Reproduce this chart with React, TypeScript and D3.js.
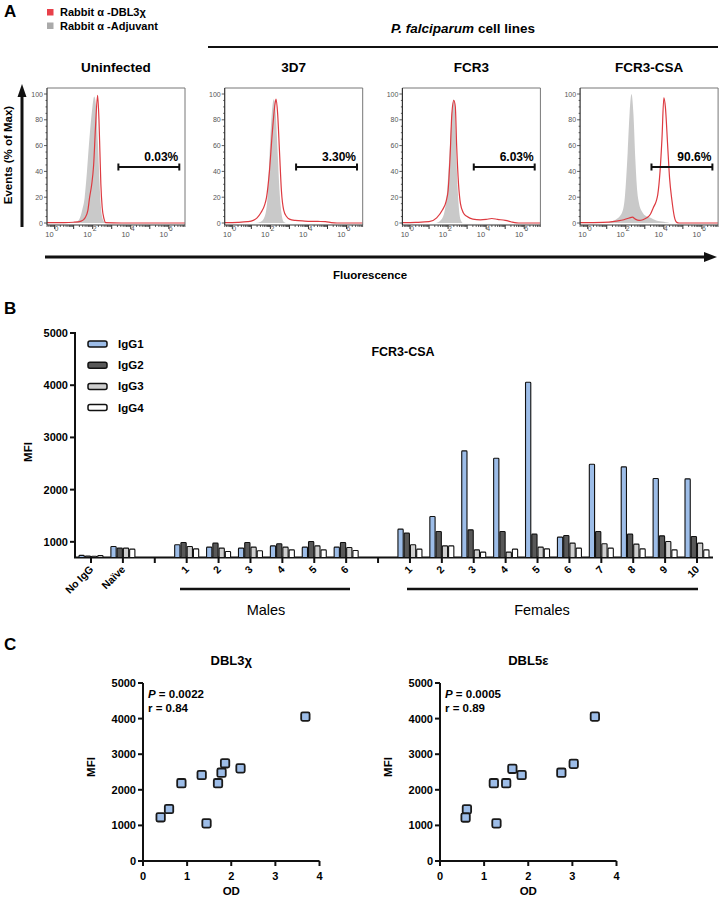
import React from 'react';
import * as d3 from 'd3';

// ---------- Panel A data ----------
const histTitles = ['Uninfected', '3D7', 'FCR3', 'FCR3-CSA'];
const gateLabels = ['0.03%', '3.30%', '6.03%', '90.6%'];
const gateRange = [3.35, 6.55];
const histYTicks = [0, 20, 40, 60, 80, 100];
const histXLabelDecades = [0, 2, 4, 6];

// [log10 fluorescence, % of max]
const adjuvantUninf = [[-0.4,0],[0.9,0],[1.1,0.8],[1.3,3],[1.45,10],[1.58,20],[1.7,40],[1.8,60],[1.95,85],[2.08,98],[2.18,90],[2.28,60],[2.38,25],[2.48,6],[2.6,1],[2.75,0],[6.85,0]];
const dbl3Uninf = [[-0.4,0.3],[0.5,0.3],[1.0,0.6],[1.4,1.5],[1.6,4],[1.75,10],[1.84,20],[1.95,30],[2.05,45],[2.15,75],[2.26,99],[2.33,80],[2.38,55],[2.43,30],[2.5,12],[2.6,3],[2.68,0.3],[3.5,0],[6.85,0]];
const adjuvant3D7 = [[-0.4,0],[1.2,0],[1.5,1],[1.7,5],[1.85,20],[1.95,50],[2.05,80],[2.18,96],[2.28,85],[2.38,55],[2.48,25],[2.58,8],[2.7,1],[2.85,0],[6.85,0]];
const dbl33D7 = [[-0.4,0.3],[0.3,0.5],[0.8,1],[1.1,2],[1.3,4],[1.5,8],[1.7,14],[1.8,20],[1.95,40],[2.1,70],[2.25,93],[2.3,96],[2.38,85],[2.48,55],[2.58,25],[2.7,10],[2.85,5],[3.0,3],[3.3,2],[3.8,1.5],[4.5,1.2],[4.9,1],[5.2,0.3],[5.5,0],[6.85,0]];
const adjuvantFCR3 = [[-0.4,0],[1.3,0],[1.6,2],[1.8,8],[1.95,25],[2.1,60],[2.2,85],[2.3,96],[2.38,80],[2.45,45],[2.55,15],[2.65,3],[2.8,0],[6.85,0]];
const dbl3FCR3 = [[-0.4,0.3],[0.3,0.5],[1.0,1],[1.4,4],[1.7,10],[1.9,17],[2.0,25],[2.1,50],[2.2,85],[2.3,95],[2.38,90],[2.45,60],[2.55,30],[2.65,15],[2.8,8],[3.0,5],[3.3,3],[3.7,2.5],[4.0,2.8],[4.3,3.5],[4.6,2.8],[5.0,2],[5.3,1],[5.5,0.3],[5.7,0],[6.85,0]];
const adjuvantCSA = [[-0.4,0],[0.9,0],[1.2,1],[1.5,3],[1.8,8],[1.95,20],[2.1,55],[2.2,85],[2.3,100],[2.4,85],[2.5,50],[2.6,25],[2.7,15],[2.85,9],[3.0,6],[3.3,4],[3.6,2],[4.0,1],[4.4,0],[6.85,0]];
const dbl3CSA = [[-0.4,0.3],[0.8,0.5],[1.5,1.5],[1.9,2.5],[2.2,4],[2.35,4.5],[2.5,3],[2.7,2],[2.9,2.5],[3.1,4],[3.3,7],[3.45,12],[3.6,17],[3.68,22],[3.8,40],[3.9,65],[4.0,97],[4.08,90],[4.2,60],[4.3,35],[4.42,18],[4.55,5],[4.68,0.5],[4.8,0],[6.85,0]];

const adjuvantCurves = [adjuvantUninf, adjuvant3D7, adjuvantFCR3, adjuvantCSA];
const dbl3Curves = [dbl3Uninf, dbl33D7, dbl3FCR3, dbl3CSA];

// ---------- Panel B data ----------
const barIds = ['noigg','naive','gap1','m1','m2','m3','m4','m5','m6','gap2','f1','f2','f3','f4','f5','f6','f7','f8','f9','f10'];
const barLabels = ['No IgG','Naïve','','1','2','3','4','5','6','','1','2','3','4','5','6','7','8','9','10'];
const iggSeries = ['IgG1', 'IgG2', 'IgG3', 'IgG4'];
const igg1 = [740, 910, null, 943, 899, 879, 923, 899, 899, null, 1243, 1484, 2742, 2602, 4057, 1090, 2487, 2435, 2212, 2206];
const igg2 = [730, 879, null, 987, 975, 987, 962, 1006, 987, null, 1166, 1197, 1230, 1197, 1147, 1121, 1197, 1147, 1115, 1101];
const igg3 = [725, 879, null, 910, 879, 899, 899, 923, 892, null, 943, 923, 847, 803, 899, 975, 962, 956, 1006, 975];
const igg4 = [735, 860, null, 866, 815, 828, 847, 847, 834, null, 860, 923, 803, 860, 866, 879, 879, 866, 847, 847];
const barYTicks = [1000, 2000, 3000, 4000, 5000];

// ---------- Panel C data ----------
const dbl3OD = [3.68, 1.86, 2.21, 1.78, 1.33, 0.87, 1.70, 0.59, 0.40, 1.44];
const dbl3MFI = [4055, 2744, 2603, 2480, 2416, 2185, 2185, 1461, 1227, 1058];
const dbl5OD = [3.51, 3.03, 2.75, 1.64, 1.85, 1.22, 1.50, 0.61, 0.58, 1.28];
const dbl5MFI = [4055, 2728, 2480, 2590, 2416, 2185, 2185, 1452, 1220, 1058];
const scatterXTicks = [0, 1, 2, 3, 4];
const scatterYTicks = [0, 1000, 2000, 3000, 4000, 5000];

const FONT = '"Liberation Sans", Arial, Helvetica, sans-serif';
const RED = '#dd3a40';
const GRAYFILL = '#c9c9c9';
const BLUE = '#9dbde8';
const COLORS = [BLUE, '#585858', '#cfcfcf', '#ffffff'];

function Histogram({ i }: { i: number }) {
  const left = 47 + i * 177.7;
  const w = 138;
  const top = 88;
  const axisY = 225;
  const x = d3.scaleLinear().domain([-0.4, 6.85]).range([left, left + w]);
  const y = d3.scaleLinear().domain([0, 100]).range([223, 94]);
  const area = d3.area<number[]>().x(d => x(d[0])).y0(y(0)).y1(d => y(d[1])).curve(d3.curveMonotoneX);
  const line = d3.line<number[]>().x(d => x(d[0])).y(d => y(d[1])).curve(d3.curveMonotoneX);
  const minor: number[] = [];
  for (let d = -1; d <= 6; d++) for (let k = 2; k <= 9; k++) {
    const v = d + Math.log10(k);
    if (v > -0.4 && v < 6.85) minor.push(v);
  }
  const yMinor = d3.range(0, 101, 5);
  const gx0 = x(gateRange[0]);
  const gx1 = x(gateRange[1]);
  return (
    <g>
      <text x={left + w / 2} y={72} textAnchor="middle" fontWeight="bold" fontSize={13.5}>{histTitles[i]}</text>
      <path d={area(adjuvantCurves[i]) || ''} fill={GRAYFILL} />
      <path d={line(dbl3Curves[i]) || ''} fill="none" stroke={RED} strokeWidth={1.2} />
      <path d={`M${left},${top}H${left + w}V${axisY}`} fill="none" stroke="#777" strokeWidth={1} />
      <line x1={left} x2={left} y1={top} y2={axisY} stroke="#333" strokeWidth={1.2} />
      <line x1={left} x2={left + w} y1={axisY} y2={axisY} stroke="#333" strokeWidth={1.2} />
      {yMinor.map(v => (
        <line key={'ym' + v} x1={left} x2={left - (v % 20 === 0 ? 3 : 1.5)} y1={y(v)} y2={y(v)} stroke="#333" strokeWidth={0.8} />
      ))}
      {histYTicks.map(v => (
        <text key={'yt' + v} x={left - 4} y={y(v) + 2.5} textAnchor="end" fontSize={7} fill="#555">{v}</text>
      ))}
      {minor.map(v => (
        <line key={'xm' + v} x1={x(v)} x2={x(v)} y1={axisY} y2={axisY + 2} stroke="#333" strokeWidth={0.8} />
      ))}
      {d3.range(0, 7).map(v => (
        <line key={'xM' + v} x1={x(v)} x2={x(v)} y1={axisY} y2={axisY + 4} stroke="#333" strokeWidth={1} />
      ))}
      {histXLabelDecades.map(v => (
        <text key={'xl' + v} x={x(v) - 1} y={237} textAnchor="end" fontSize={7.5} fill="#555">10</text>
      ))}
      {histXLabelDecades.map(v => (
        <text key={'xs' + v} x={x(v)} y={231} fontSize={7} fill="#555">{v}</text>
      ))}
      <line x1={gx0} x2={gx1} y1={167} y2={167} stroke="#111" strokeWidth={2} />
      <line x1={gx0} x2={gx0} y1={163.5} y2={170.5} stroke="#111" strokeWidth={2} />
      <line x1={gx1} x2={gx1} y1={163.5} y2={170.5} stroke="#111" strokeWidth={2} />
      <text x={gx1 - 1} y={161} textAnchor="end" fontWeight="bold" fontSize={12}>{gateLabels[i]}</text>
    </g>
  );
}

function Scatter({ left, title, ods, mfis, pText, rText }: { left: number; title: string; ods: number[]; mfis: number[]; pText: string; rText: string }) {
  const x = d3.scaleLinear().domain([0, 4]).range([left, left + 176.5]);
  const y = d3.scaleLinear().domain([0, 5000]).range([861, 683]);
  const cx = (x(0) + x(4)) / 2;
  return (
    <g>
      <text x={cx} y={665} textAnchor="middle" fontWeight="bold" fontSize={13}>{title}</text>
      <line x1={x(0)} x2={x(0)} y1={y(5000)} y2={y(0)} stroke="#111" strokeWidth={2} />
      <line x1={x(0)} x2={x(4)} y1={y(0)} y2={y(0)} stroke="#111" strokeWidth={2} />
      {scatterYTicks.map(v => (
        <g key={'sy' + v}>
          <line x1={x(0) - 5} x2={x(0)} y1={y(v)} y2={y(v)} stroke="#111" strokeWidth={2} />
          <text x={x(0) - 7} y={y(v) + 4} textAnchor="end" fontWeight="bold" fontSize={11}>{v}</text>
        </g>
      ))}
      {scatterXTicks.map(v => (
        <g key={'sx' + v}>
          <line x1={x(v)} x2={x(v)} y1={y(0)} y2={y(0) + 5} stroke="#111" strokeWidth={2} />
          <text x={x(v)} y={880} textAnchor="middle" fontWeight="bold" fontSize={11}>{v}</text>
        </g>
      ))}
      <text x={cx} y={895} textAnchor="middle" fontWeight="bold" fontSize={11.5}>OD</text>
      <text transform={`translate(${left - 48},${767}) rotate(-90)`} textAnchor="middle" fontWeight="bold" fontSize={11.5}>MFI</text>
      <text x={left + 5} y={698} fontWeight="bold" fontSize={11.5}><tspan fontStyle="italic">P</tspan>{pText}</text>
      <text x={left + 5} y={712} fontWeight="bold" fontSize={11.5}>{rText}</text>
      {ods.map((o, k) => (
        <rect key={'pt' + k} x={x(o) - 4.2} y={y(mfis[k]) - 4.2} width={8.4} height={8.4} rx={1.5} fill={BLUE} stroke="#1a1a1a" strokeWidth={1.8} />
      ))}
    </g>
  );
}

export default function App() {
  const xB = d3.scalePoint<string>().domain(barIds).range([91, 697]);
  const yB = d3.scaleLinear().domain([700, 5000]).range([557.5, 333]);
  const inner = d3.scaleBand<string>().domain(iggSeries).range([-12.5, 12.5]);
  const seriesVals = [igg1, igg2, igg3, igg4];

  return (
    <svg width={720} height={898} style={{ position: 'absolute', left: 0, top: 0, background: '#fff' }} fontFamily={FONT}>
      <rect width={720} height={898} fill="#fff" />
      {/* ---------- Panel A ---------- */}
      <text x={4} y={17} fontWeight="bold" fontSize={17}>A</text>
      <rect x={47} y={9} width={6.5} height={6.5} fill="#e8404a" />
      <text x={60} y={16} fontWeight="bold" fontSize={11}>Rabbit α -DBL3χ</text>
      <rect x={47} y={22.5} width={6.5} height={6.5} fill="#aaaaaa" />
      <text x={60} y={30} fontWeight="bold" fontSize={11}>Rabbit α -Adjuvant</text>
      <text x={463} y={33} textAnchor="middle" fontWeight="bold" fontSize={13.5}>
        <tspan fontStyle="italic">P. falciparum</tspan> cell lines
      </text>
      <line x1={208} x2={718} y1={47} y2={47} stroke="#111" strokeWidth={2.2} />
      {histTitles.map((t, i) => <Histogram key={t} i={i} />)}
      <line x1={22} x2={22} y1={227} y2={95} stroke="#111" strokeWidth={3} />
      <path d="M22,84 L17.5,97 L26.5,97 Z" fill="#111" />
      <text transform="translate(12,155) rotate(-90)" textAnchor="middle" fontWeight="bold" fontSize={11.5}>Events (% of Max)</text>
      <line x1={45} x2={706} y1={257} y2={257} stroke="#111" strokeWidth={3} />
      <path d="M717,257 L704,252 L704,262 Z" fill="#111" />
      <text x={370} y={279} textAnchor="middle" fontWeight="bold" fontSize={11.5}>Fluorescence</text>

      {/* ---------- Panel B ---------- */}
      <text x={4} y={314} fontWeight="bold" fontSize={17}>B</text>
      <text x={403} y={356} textAnchor="middle" fontWeight="bold" fontSize={12.5}>FCR3-CSA</text>
      <line x1={75} x2={75} y1={yB(5000) - 1} y2={558} stroke="#111" strokeWidth={2} />
      <line x1={74} x2={713} y1={557.5} y2={557.5} stroke="#111" strokeWidth={2} />
      {barYTicks.map(v => (
        <g key={'by' + v}>
          <line x1={70} x2={75} y1={yB(v)} y2={yB(v)} stroke="#111" strokeWidth={2} />
          <text x={68} y={yB(v) + 4} textAnchor="end" fontWeight="bold" fontSize={11}>{v}</text>
        </g>
      ))}
      <text transform="translate(32,452) rotate(-90)" textAnchor="middle" fontWeight="bold" fontSize={11.5}>MFI</text>
      {barIds.map((id, ci) => (
        <g key={id}>
          {seriesVals.map((vals, si) => {
            const v = vals[ci];
            if (v == null) return null;
            const bx = (xB(id) as number) + (inner(iggSeries[si]) as number);
            const top = yB(v);
            return <rect key={si} x={bx + 0.5} y={top} width={inner.bandwidth() - 1} height={Math.max(0.5, 557.5 - top)} fill={COLORS[si]} stroke="#111" strokeWidth={1.1} rx={0.8} />;
          })}
          <line x1={xB(id)} x2={xB(id)} y1={557.5} y2={563} stroke="#111" strokeWidth={2} />
          {barLabels[ci] !== '' && (
            <text transform={`translate(${(xB(id) as number) + 3},${570}) rotate(-45)`} textAnchor="end" fontWeight="bold" fontSize={10.5}>{barLabels[ci]}</text>
          )}
        </g>
      ))}
      {iggSeries.map((s, si) => (
        <g key={s}>
          <rect x={88} y={341 + si * 21.2} width={19} height={6} rx={2} fill={COLORS[si]} stroke="#111" strokeWidth={1.5} />
          <text x={118} y={348 + si * 21.2} fontWeight="bold" fontSize={11.5}>{s}</text>
        </g>
      ))}
      <line x1={180} x2={350} y1={589} y2={589} stroke="#111" strokeWidth={2.5} />
      <text x={266} y={615} textAnchor="middle" fontSize={14.5}>Males</text>
      <line x1={407} x2={698} y1={589} y2={589} stroke="#111" strokeWidth={2.5} />
      <text x={542} y={615} textAnchor="middle" fontSize={14.5}>Females</text>

      {/* ---------- Panel C ---------- */}
      <text x={4} y={650} fontWeight="bold" fontSize={17}>C</text>
      <Scatter left={143} title="DBL3χ" ods={dbl3OD} mfis={dbl3MFI} pText=" = 0.0022" rText="r = 0.84" />
      <Scatter left={440} title="DBL5ε" ods={dbl5OD} mfis={dbl5MFI} pText=" = 0.0005" rText="r = 0.89" />
    </svg>
  );
}
